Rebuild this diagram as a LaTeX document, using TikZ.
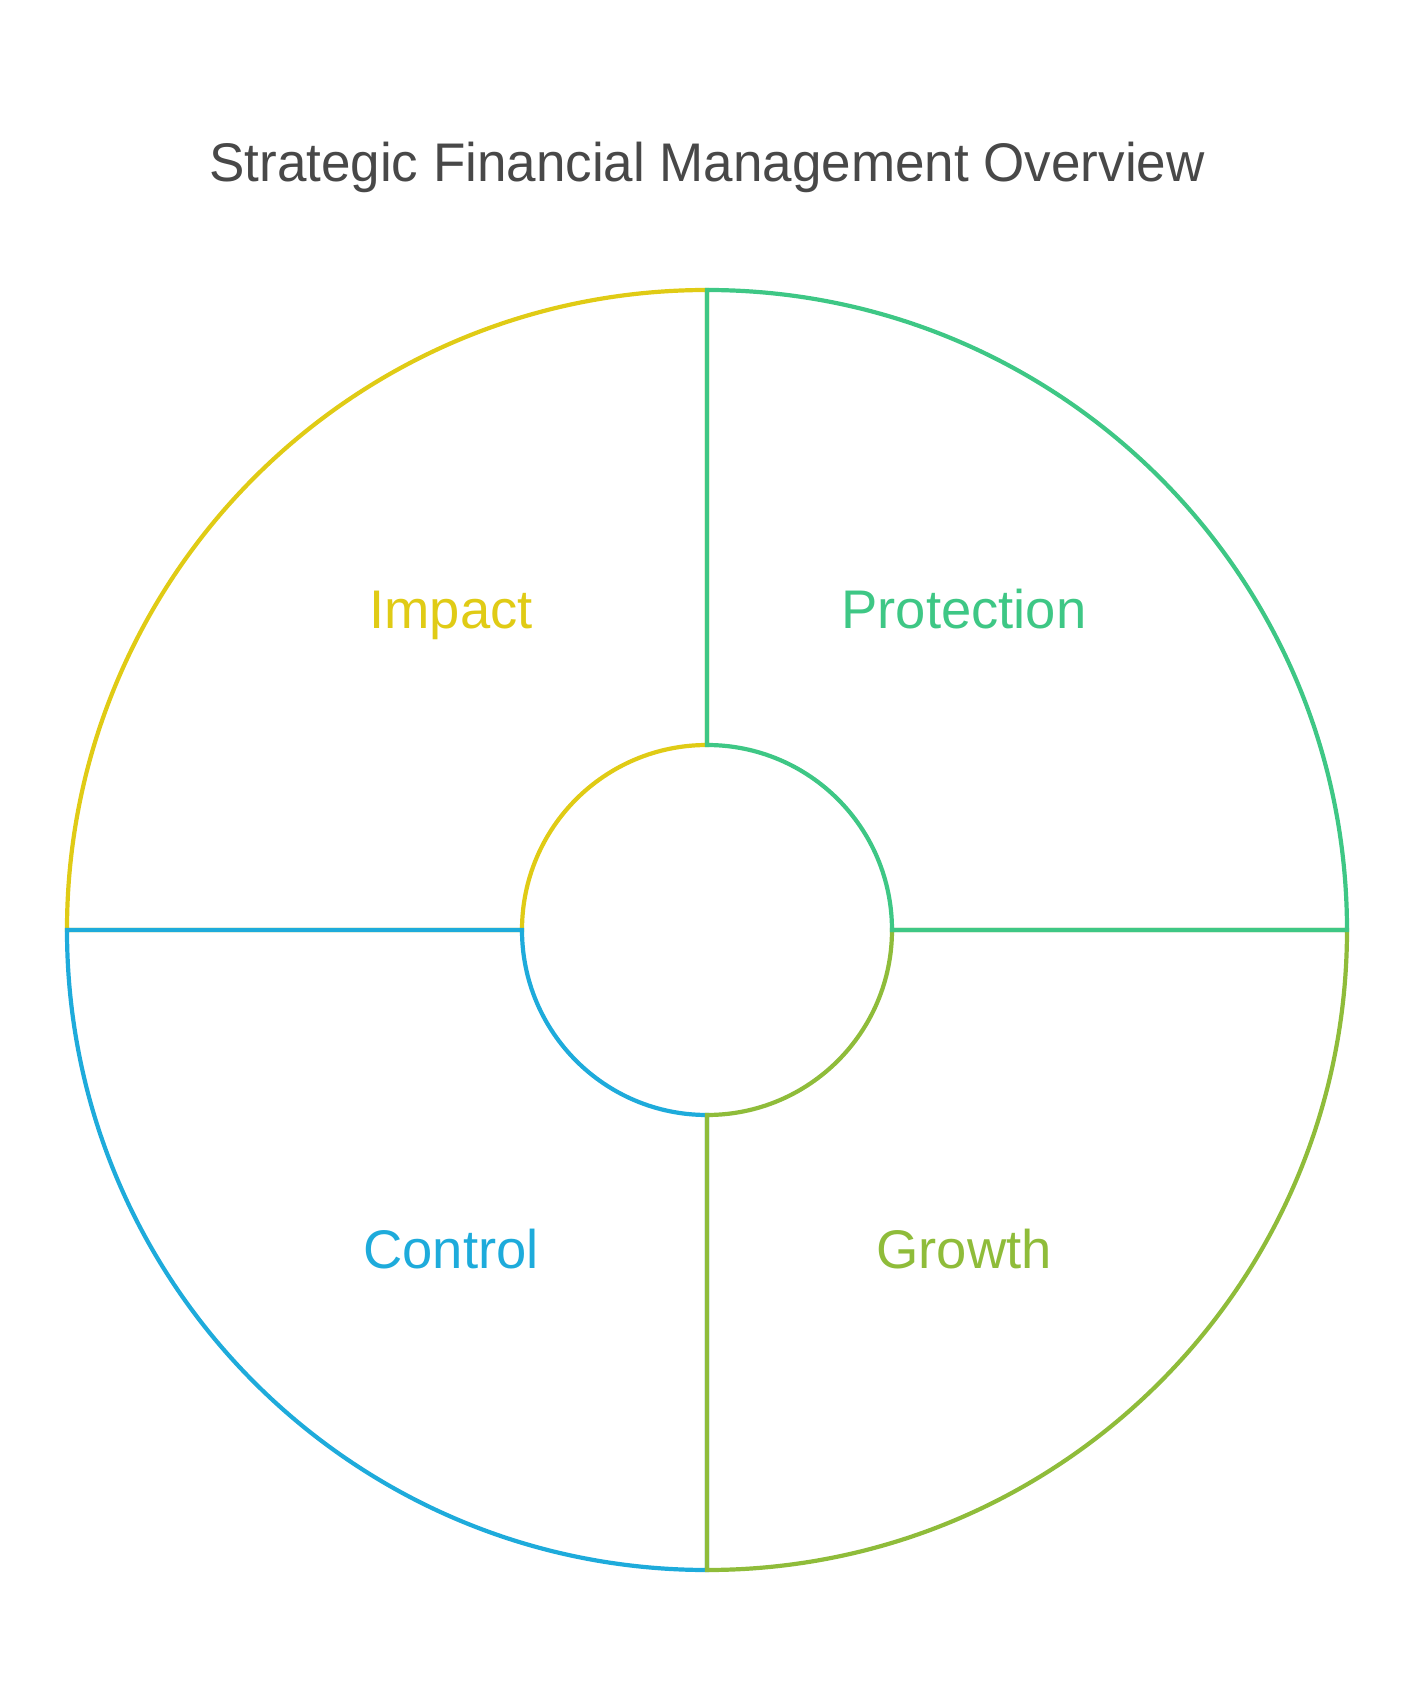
\documentclass[tikz,border=0pt]{standalone}
\usepackage{fontspec}
\setmainfont{Liberation Sans}
\newfontfamily\titlefont[FakeStretch=0.974]{Liberation Sans}
\usepackage{tikz}

\definecolor{impactcol}{RGB}{224,203,21}
\definecolor{protectcol}{RGB}{62,199,133}
\definecolor{growthcol}{RGB}{143,188,58}
\definecolor{controlcol}{RGB}{30,171,219}
\definecolor{titlecol}{RGB}{72,72,72}

\begin{document}
\begin{tikzpicture}[x=0.5pt, y=0.5pt,
    quarter/.style={line width=2.1pt, line join=miter},
    label/.style={font=\fontsize{27.2}{32}\selectfont, anchor=base}]
        \useasboundingbox (-707,-772) rectangle (707,930);
        \coordinate (centre) at (0,0);

        % Quarters
        \draw[quarter, impactcol] (0,185) -- (0,640) arc[start angle=90, end angle=180, radius=640]
            -- (-185,0) arc[start angle=180, end angle=90, radius=185] -- cycle;
        \draw[quarter, controlcol] (-185,0) -- (-640,0) arc[start angle=180, end angle=270, radius=640]
            -- (0,-185) arc[start angle=270, end angle=180, radius=185] -- cycle;
        \draw[quarter, growthcol] (0,-185) -- (0,-640) arc[start angle=270, end angle=360, radius=640]
            -- (185,0) arc[start angle=0, end angle=-90, radius=185] -- cycle;
        \draw[quarter, protectcol] (185,0) -- (640,0) arc[start angle=0, end angle=90, radius=640]
            -- (0,185) arc[start angle=90, end angle=0, radius=185] -- cycle;

        % Labels
        \node (title) [label, text=titlecol, font=\titlefont\fontsize{27.2}{32}\selectfont] at (0,748) {Strategic Financial Management Overview};
        \node (impact) [label, text=impactcol] at (-256,301) {Impact};
        \node (protection) [label, text=protectcol] at (257,301) {Protection};
        \node (control) [label, text=controlcol] at (-256,-338) {Control};
        \node (growth) [label, text=growthcol] at (257,-338) {Growth};
    \end{tikzpicture}
\end{document}
